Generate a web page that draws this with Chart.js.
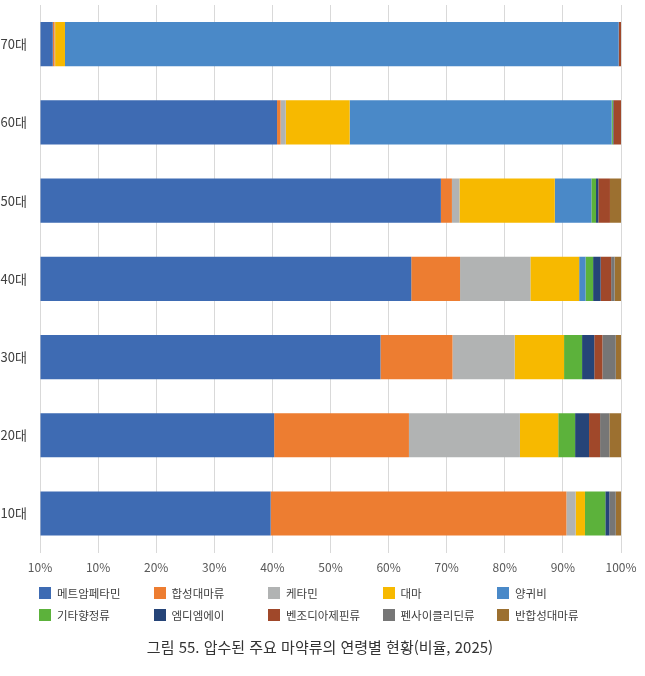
<!DOCTYPE html>
<html lang="ko">
<head>
<meta charset="utf-8">
<title>압수된 주요 마약류의 연령별 현황</title>
<script src="https://cdn.jsdelivr.net/npm/chart.js@4.4.1/dist/chart.umd.min.js"></script>
<style>
    body { margin: 0; background: #fff; font-family: 'Noto Sans CJK KR', 'Noto Sans', sans-serif; }
    #wrap { position: relative; width: 645px; height: 676px; overflow: hidden; }
    #chart-box { position: absolute; left: 0; top: 0; width: 645px; height: 590px; }
    #legend { position: absolute; left: 39px; top: 582px; display: grid;
        grid-template-columns: repeat(5, 114.5px); grid-auto-rows: 22px; }
    .item { display: flex; align-items: center; font-size: 11.5px; color: #404040; white-space: nowrap; }
    .item span.box { width: 12px; height: 12px; margin-right: 6px; flex: none; }
    #caption { position: absolute; left: 0; width: 640px; top: 636px; text-align: center;
        font-size: 15px; color: #333; }
</style>
</head>
<body>
<div id="wrap">
    <div id="chart-box"><canvas id="drug-chart"></canvas></div>
    <div id="legend"></div>
    <div id="caption">그림 55. 압수된 주요 마약류의 연령별 현황(비율, 2025)</div>
</div>
<script>
// Age groups (top to bottom) and x tick labels as printed
const ageGroups = ['70대', '60대', '50대', '40대', '30대', '20대', '10대'];
const xTickLabels = ['10%', '10%', '20%', '30%', '40%', '50%', '60%', '70%', '80%', '90%', '100%'];

const seriesNames = ['메트암페타민', '합성대마류', '케타민', '대마', '양귀비',
    '기타향정류', '엠디엠에이', '벤조디아제핀류', '펜사이클리딘류', '반합성대마류'];
const seriesColors = ['#3e6bb3', '#ed7d31', '#b1b3b3', '#f7b900', '#4a89c8',
    '#5cb23b', '#264478', '#a0482a', '#767676', '#9c7030'];

// share (%) per age group, same order as ageGroups
const methamphetamine = [2.2, 40.8, 69.0, 63.9, 58.6, 40.3, 39.7];
const syntheticCannabis = [0.3, 0.6, 1.9, 8.4, 12.4, 23.2, 50.9];
const ketamine = [0.1, 0.9, 1.3, 12.1, 10.7, 19.1, 1.6];
const cannabis = [1.7, 11.0, 16.4, 8.4, 8.5, 6.6, 1.6];
const poppy = [95.3, 45.1, 6.3, 1.1, 0, 0, 0];
const otherPsychotropics = [0, 0.2, 0.8, 1.3, 3.1, 2.9, 3.5];
const mdma = [0, 0.1, 0.4, 1.3, 2.1, 2.4, 0.7];
const benzodiazepines = [0.4, 1.3, 2.0, 1.8, 1.4, 1.9, 0];
const phencyclidines = [0, 0, 0, 0.6, 2.3, 1.6, 1.1];
const semiSyntheticCannabis = [0, 0, 1.9, 1.1, 0.9, 2.0, 0.9];

const seriesValues = [methamphetamine, syntheticCannabis, ketamine, cannabis, poppy,
    otherPsychotropics, mdma, benzodiazepines, phencyclidines, semiSyntheticCannabis];

// Legend (HTML, two rows of five)
const legendEl = document.getElementById('legend');
seriesNames.forEach((name, i) => {
    const item = document.createElement('div');
    item.className = 'item';
    item.innerHTML = '<span class="box" style="background:' + seriesColors[i] + '"></span>' + name;
    legendEl.appendChild(item);
});

function initDrugChart() {
    const ctx = document.getElementById('drug-chart');

    new Chart(ctx, {
        type: 'bar',
        data: {
            labels: ageGroups,
            datasets: seriesNames.map((name, i) => ({
                label: name,
                data: seriesValues[i],
                backgroundColor: seriesColors[i],
                borderWidth: 0,
                categoryPercentage: 1,
                barPercentage: 0.565
            }))
        },
        options: {
            indexAxis: 'y',
            responsive: true,
            maintainAspectRatio: false,
            animation: false,
            layout: {
                padding: { top: 5, right: 24, bottom: 7, left: 0 }
            },
            plugins: {
                legend: { display: false },
                tooltip: { enabled: false }
            },
            scales: {
                x: {
                    stacked: true,
                    min: 0,
                    max: 100,
                    ticks: {
                        stepSize: 10,
                        padding: 8,
                        color: '#595959',
                        font: { family: "'Noto Sans CJK KR'", size: 12 },
                        callback: (value, index) => xTickLabels[index]
                    },
                    grid: { color: '#d9d9d9', drawTicks: false },
                    border: { display: false }
                },
                y: {
                    stacked: true,
                    ticks: {
                        padding: 13,
                        color: '#404040',
                        font: { family: "'Noto Sans CJK KR'", size: 13 }
                    },
                    grid: { display: false, drawTicks: false },
                    border: { display: false },
                    afterFit: scale => {
                        scale.width = 40;
                        scale.paddingTop = 0;
                        scale.paddingBottom = 0;
                    }
                }
            }
        }
    });
}

if (document.readyState === 'loading') {
    document.addEventListener('DOMContentLoaded', initDrugChart);
} else {
    initDrugChart();
}
</script>
</body>
</html>
